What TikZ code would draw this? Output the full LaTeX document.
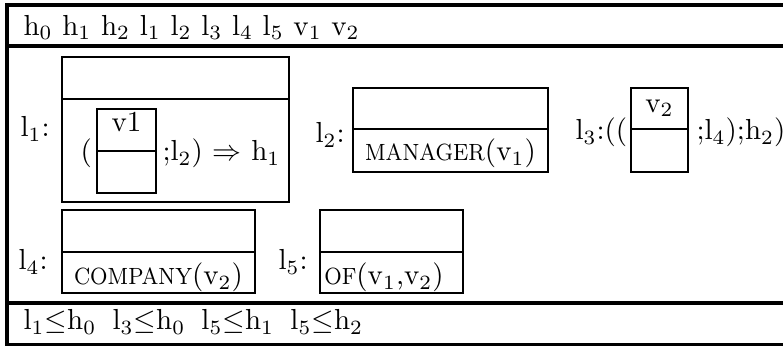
\documentclass[tikz,border=0pt]{standalone}
\usepackage{graphicx}
\tikzset{
  frame/.style={line width=1.1pt},
  boxline/.style={line width=0.95pt},
  innerline/.style={line width=0.85pt},
  lbl/.style={inner sep=0pt, anchor=base west},
  ctr/.style={inner sep=0pt, anchor=base},
}
\newcommand{\predname}[1]{\scalebox{0.9}[1]{\fontsize{8.1pt}{9.7pt}\selectfont #1}}
\begin{document}
\begin{tikzpicture}[x=0.345pt,y=-0.345pt]
\useasboundingbox (0,0) rectangle (783,346);
% outer frame
\draw[frame] (783,5) -- (7,5) -- (7,345) -- (783,345);
\draw[frame] (7,46) -- (783,46);
\draw[frame] (7,303) -- (783,303);
% header and footer
\node[lbl] (hdr) at (23,35.5) {h$_0$ h$_1$ h$_2$ l$_1$ l$_2$ l$_3$ l$_4$ l$_5$ v$_1$ v$_2$};
\node[lbl] (ftr) at (23,330) {l$_1$$\leq$h$_0$\hspace{5.6pt}l$_3$$\leq$h$_0$\hspace{5.6pt}l$_5$$\leq$h$_1$\hspace{5.6pt}l$_5$$\leq$h$_2$};
% l1 box
\draw[boxline] (62,57) rectangle (289,202);
\draw[boxline] (62,99) -- (289,99);
\draw[innerline] (97,109) rectangle (156,193);
\draw[innerline] (97,151) -- (156,151);
\node[lbl] (l1lab) at (20,137) {l$_1$:};
\node[lbl] (l1par) at (80,161) {(};
\node[lbl] (l1rest) at (162,161) {;l$_2$) $\Rightarrow$ h$_1$};
\node[ctr] (v1) at (126.5,131.5) {v1};
% l2 box
\draw[boxline] (353,88) rectangle (548,172);
\draw[boxline] (353,129) -- (548,129);
\node[lbl] (l2lab) at (315,143) {l$_2$:};
\node[ctr] (mgr) at (450.5,161) {\predname{MANAGER}(v$_1$)};
% l3
\node[lbl] (l3lab) at (575,140) {l$_3$:((};
\draw[innerline] (631,88) rectangle (688,172);
\draw[innerline] (631,129) -- (688,129);
\node[ctr] (v2) at (659.5,112.5) {v$_2$};
\node[lbl] (l3rest) at (696,140) {;l$_4$);h$_2$)};
% l4 box
\draw[boxline] (62,210) rectangle (255,293);
\draw[boxline] (62,252) -- (255,252);
\node[lbl] (l4lab) at (18,270) {l$_4$:};
\node[ctr] (comp) at (158.5,285) {\predname{COMPANY}(v$_2$)};
% l5 box
\draw[boxline] (320,210) rectangle (463,293);
\draw[boxline] (320,252) -- (463,252);
\node[lbl] (l5lab) at (278,270) {l$_5$:};
\node[ctr] (of) at (384,285) {\predname{OF}(v$_1$,v$_2$)};
\end{tikzpicture}
\end{document}
